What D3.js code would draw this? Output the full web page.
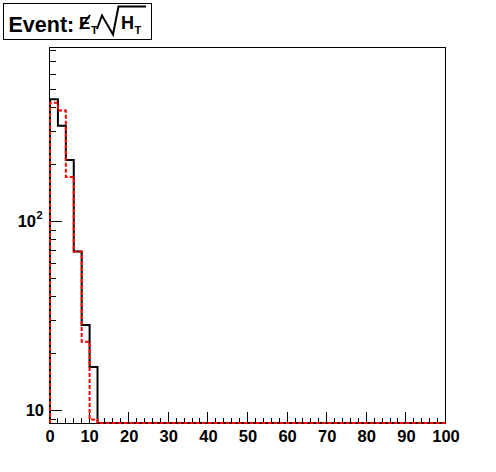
<!DOCTYPE html>
<html>
 <head>
   <title>Event MET/sqrt(HT)</title>
   <script type="text/javascript" src="https://cdn.jsdelivr.net/npm/d3@7"></script>
   <style type="text/css">
		body {
			margin: 0;
			background: white;
		}
		svg {
			display: block;
		}
		text {
			font-family: "Liberation Sans", Arial, sans-serif;
			font-weight: bold;
			fill: black;
		}
		path.hist {
			fill: none;
			stroke-width: 2;
		}
   </style>
 </head>
 <body>
   <script type="text/javascript">

	// histogram contents, 50 bins of width 2 from 0 to 100
	var binEdges = [0, 2, 4, 6, 8, 10, 12, 14, 16, 18, 20, 22, 24, 26, 28, 30, 32, 34, 36, 38, 40,
		42, 44, 46, 48, 50, 52, 54, 56, 58, 60, 62, 64, 66, 68, 70, 72, 74, 76, 78, 80,
		82, 84, 86, 88, 90, 92, 94, 96, 98, 100];
	var blackCounts = [441, 319, 210, 69, 28.2, 16.9, 0, 0, 0, 0,
		0, 0, 0, 0, 0, 0, 0, 0, 0, 0,
		0, 0, 0, 0, 0, 0, 0, 0, 0, 0,
		0, 0, 0, 0, 0, 0, 0, 0, 0, 0,
		0, 0, 0, 0, 0, 0, 0, 0, 0, 0];
	var redCounts = [422, 384, 171, 69, 23, 8.9, 0, 0, 0, 0,
		0, 0, 0, 0, 0, 0, 0, 0, 0, 0,
		0, 0, 0, 0, 0, 0, 0, 0, 0, 0,
		0, 0, 0, 0, 0, 0, 0, 0, 0, 0,
		0, 0, 0, 0, 0, 0, 0, 0, 0, 0];
	var xTickLabels = [0, 10, 20, 30, 40, 50, 60, 70, 80, 90, 100];
	var yTickValues = [10, 100];
	var yTickExps = [1, 2];

	var W = 496, H = 472;
	var padL = 50, padR = 446, padT = 47, padB = 423;
	var yDomain = [8.535, 833];

	var x = d3.scaleLinear().domain([0, 100]).range([padL, padR]);
	var y = d3.scaleLog().domain(yDomain).range([padB, padT]);

	var svg = d3.select('body').append('svg')
		.attr('width', W)
		.attr('height', H);

	// frame
	svg.append('rect')
		.attr('x', padL - 0.5).attr('y', padT + 0.5)
		.attr('width', padR - padL).attr('height', padB - padT)
		.attr('fill', 'none').attr('stroke', 'black').attr('stroke-width', 1);

	// y ticks (inside the frame)
	var yt = y.ticks();
	svg.selectAll('line.ytick').data(yt)
		.enter().append('line')
		.attr('class', 'ytick')
		.attr('x1', padL)
		.attr('x2', function(d) { return padL + (yTickValues.indexOf(d) >= 0 ? 12 : 6) })
		.attr('y1', function(d) { return Math.round(y(d)) + 0.5 })
		.attr('y2', function(d) { return Math.round(y(d)) + 0.5 })
		.attr('stroke', 'black');

	svg.selectAll('text.ylab').data(yTickValues)
		.enter().append('text')
		.attr('class', 'ylab')
		.attr('x', function(d, i) { return yTickExps[i] > 1 ? 36 : 44 })
		.attr('y', function(d) { return y(d) + 6 })
		.attr('text-anchor', 'end')
		.style('font-size', '16.5px')
		.text('10');
	svg.selectAll('text.yexp').data(yTickValues.filter(function(d, i) { return yTickExps[i] > 1 }))
		.enter().append('text')
		.attr('class', 'yexp')
		.attr('x', 36.5)
		.attr('y', function(d) { return y(d) - 2 })
		.style('font-size', '11px')
		.text(function(d) { return Math.round(Math.log10(d)) });

	// x ticks
	svg.selectAll('line.xtick').data(d3.range(0, 101, 2))
		.enter().append('line')
		.attr('class', 'xtick')
		.attr('x1', function(d) { return Math.round(x(d)) - 0.5 })
		.attr('x2', function(d) { return Math.round(x(d)) - 0.5 })
		.attr('y1', padB)
		.attr('y2', function(d) { return padB - (d % 10 === 0 ? 11 : 5) })
		.attr('stroke', 'black');

	svg.selectAll('text.xlab').data(xTickLabels)
		.enter().append('text')
		.attr('class', 'xlab')
		.attr('x', function(d) { return x(d) })
		.attr('y', 442)
		.attr('text-anchor', 'middle')
		.style('font-size', '16.5px')
		.text(function(d) { return d });

	// histograms
	function histPoints(counts) {
		var pts = [[binEdges[0], yDomain[0]]];
		counts.forEach(function(c, i) {
			var v = c > 0 ? c : yDomain[0];
			pts.push([binEdges[i], v]);
			pts.push([binEdges[i + 1], v]);
		});
		pts.push([binEdges[binEdges.length - 1], yDomain[0]]);
		return pts;
	}
	var line = d3.line()
		.x(function(d) { return x(d[0]) })
		.y(function(d) { return Math.min(y(d[1]), padB) });

	svg.append('path')
		.attr('class', 'hist')
		.attr('d', line(histPoints(blackCounts)))
		.attr('stroke', 'black');

	svg.append('path')
		.attr('class', 'hist')
		.attr('d', line(histPoints(redCounts)))
		.attr('stroke', '#ff0000')
		.attr('stroke-dasharray', '4,2');

	// title box
	var tg = svg.append('g');
	tg.append('rect')
		.attr('x', 3.5).attr('y', 3.5)
		.attr('width', 148).attr('height', 36)
		.attr('fill', 'white').attr('stroke', 'black');
	tg.append('text').attr('x', 8.5).attr('y', 31.5)
		.style('font-size', '21.5px').text('Event:');
	tg.append('text').attr('x', 79).attr('y', 29)
		.style('font-size', '17px').text('E');
	tg.append('line')
		.attr('x1', 80).attr('y1', 29).attr('x2', 90).attr('y2', 15)
		.attr('stroke', 'black').attr('stroke-width', 2);
	tg.append('text').attr('x', 91).attr('y', 34)
		.style('font-size', '11px').text('T');
	tg.append('path')
		.attr('d', 'M97,29 L102,15.5 L113,34.5 L118.5,6.5 L146,6.5')
		.attr('fill', 'none').attr('stroke', 'black').attr('stroke-width', 2);
	tg.append('text').attr('x', 121).attr('y', 29)
		.style('font-size', '18px').text('H');
	tg.append('text').attr('x', 134.5).attr('y', 34)
		.style('font-size', '11px').text('T');

    </script>
 </body>
</html>
